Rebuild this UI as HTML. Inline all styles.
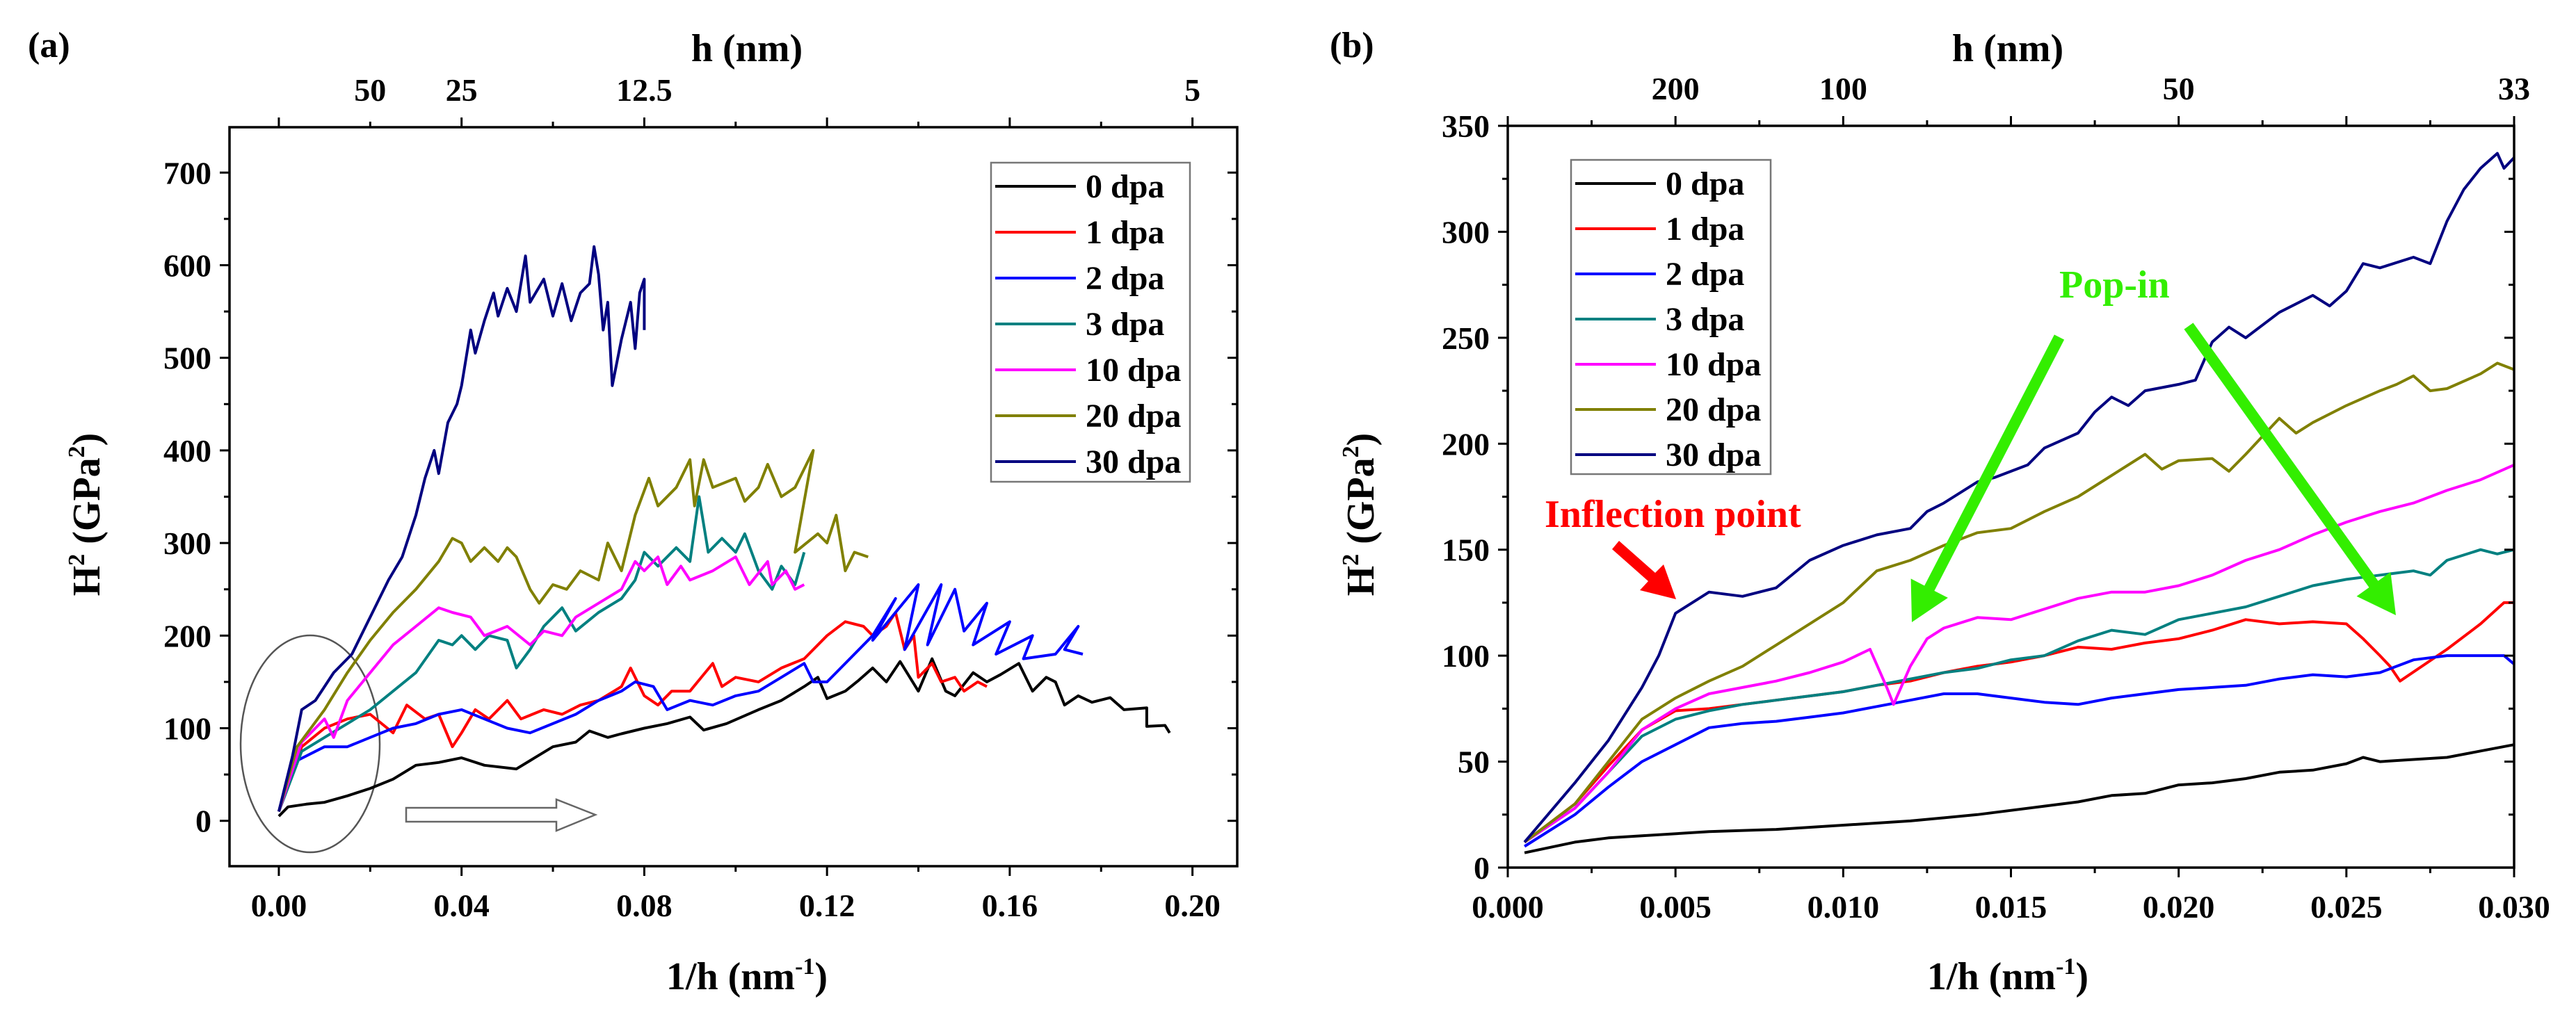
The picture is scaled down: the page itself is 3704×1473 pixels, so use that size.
<!DOCTYPE html>
<html><head><meta charset="utf-8"><style>
html,body{margin:0;padding:0;background:#fff}
svg{display:block}
text{font-family:"Liberation Serif",serif;font-weight:bold;fill:#000}
</style></head><body>
<svg id="fig" width="3704" height="1473" viewBox="0 0 3704 1473" xmlns="http://www.w3.org/2000/svg">
<g id="annA">
<text x="40" y="82" font-size="52">(a)</text>
<text x="1074" y="88" font-size="56" text-anchor="middle">h (nm)</text>
<text x="1074" y="1423" font-size="56" text-anchor="middle">1/h (nm<tspan font-size="34" dy="-22">-1</tspan><tspan dy="22">)</tspan></text>
<text transform="translate(143,740) rotate(-90)" font-size="56" text-anchor="middle">H<tspan font-size="34" dy="-22">2</tspan><tspan dy="22"> (GPa</tspan><tspan font-size="34" dy="-22">2</tspan><tspan dy="22">)</tspan></text>
<ellipse cx="446" cy="1070" rx="100" ry="156" fill="none" stroke="#555" stroke-width="2.5"/>
<path d="M584,1162 L800,1162 L800,1150 L856,1172 L800,1195 L800,1182 L584,1182 Z" fill="#fff" stroke="#666" stroke-width="2.5"/>
</g>
<g id="annB">
<text x="1912" y="82" font-size="52">(b)</text>
<text x="2887" y="88" font-size="56" text-anchor="middle">h (nm)</text>
<text x="2887" y="1423" font-size="56" text-anchor="middle">1/h (nm<tspan font-size="34" dy="-22">-1</tspan><tspan dy="22">)</tspan></text>
<text transform="translate(1975,740) rotate(-90)" font-size="56" text-anchor="middle">H<tspan font-size="34" dy="-22">2</tspan><tspan dy="22"> (GPa</tspan><tspan font-size="34" dy="-22">2</tspan><tspan dy="22">)</tspan></text>
</g>
</svg>
<script>
// ---------- Panel (a) data ----------
const aXTicks = [0, 0.04, 0.08, 0.12, 0.16, 0.20];
const aXTickLabels = ["0.00","0.04","0.08","0.12","0.16","0.20"];
const aYTicks = [0,100,200,300,400,500,600,700];
const aTopTicks = [0.02, 0.04, 0.08, 0.2];
const aTopLabels = ["50","25","12.5","5"];
const aLegend = ["0 dpa","1 dpa","2 dpa","3 dpa","10 dpa","20 dpa","30 dpa"];
const a0 = [[0,5],[0.002,15],[0.006,18],[0.01,20],[0.015,27],[0.02,35],[0.025,45],[0.03,60],[0.035,63],[0.04,68],[0.045,60],[0.052,56],[0.056,68],[0.06,80],[0.065,85],[0.068,97],[0.072,90],[0.075,94],[0.08,100],[0.085,105],[0.09,112],[0.093,98],[0.098,105],[0.105,120],[0.11,130],[0.115,145],[0.118,155],[0.12,132],[0.124,140],[0.127,152],[0.13,165],[0.133,150],[0.136,172],[0.14,140],[0.143,175],[0.146,140],[0.148,135],[0.152,160],[0.155,150],[0.158,158],[0.162,170],[0.165,140],[0.168,155],[0.17,150],[0.172,125],[0.175,135],[0.178,128],[0.182,133],[0.185,120],[0.19,122],[0.19,102],[0.194,103],[0.195,95]];
const a1 = [[0,10],[0.005,80],[0.01,100],[0.015,110],[0.02,115],[0.025,95],[0.028,125],[0.032,110],[0.035,115],[0.038,80],[0.04,95],[0.043,120],[0.046,110],[0.05,130],[0.053,110],[0.058,120],[0.062,115],[0.066,125],[0.07,130],[0.075,145],[0.077,165],[0.08,135],[0.083,125],[0.086,140],[0.09,140],[0.095,170],[0.097,145],[0.1,155],[0.105,150],[0.11,165],[0.115,175],[0.12,200],[0.124,215],[0.128,210],[0.13,200],[0.133,210],[0.135,225],[0.137,185],[0.139,200],[0.14,155],[0.143,170],[0.145,150],[0.148,155],[0.15,140],[0.153,150],[0.155,145]];
const a2 = [[0,10],[0.004,65],[0.01,80],[0.015,80],[0.02,90],[0.025,100],[0.03,105],[0.035,115],[0.04,120],[0.045,110],[0.05,100],[0.055,95],[0.06,105],[0.065,115],[0.07,130],[0.075,140],[0.078,150],[0.082,145],[0.085,120],[0.09,130],[0.095,125],[0.1,135],[0.105,140],[0.11,155],[0.115,170],[0.117,150],[0.12,150],[0.125,175],[0.13,200],[0.135,240],[0.13,195],[0.14,255],[0.137,185],[0.145,255],[0.142,190],[0.148,250],[0.15,205],[0.155,235],[0.152,190],[0.16,215],[0.157,180],[0.165,200],[0.163,175],[0.17,180],[0.175,210],[0.172,185],[0.176,180]];
const a3 = [[0,10],[0.005,75],[0.01,90],[0.015,105],[0.02,120],[0.025,140],[0.03,160],[0.035,195],[0.038,190],[0.04,200],[0.043,185],[0.046,200],[0.05,195],[0.052,165],[0.055,185],[0.058,210],[0.062,230],[0.065,205],[0.07,225],[0.075,240],[0.078,260],[0.08,290],[0.083,275],[0.087,295],[0.09,280],[0.092,350],[0.094,290],[0.097,305],[0.1,290],[0.102,310],[0.105,270],[0.108,250],[0.11,275],[0.113,255],[0.115,290]];
const a10 = [[0,10],[0.005,85],[0.01,110],[0.012,90],[0.015,130],[0.02,160],[0.025,190],[0.03,210],[0.035,230],[0.038,225],[0.042,220],[0.045,200],[0.05,210],[0.055,190],[0.058,205],[0.062,200],[0.065,220],[0.07,235],[0.075,250],[0.078,280],[0.08,270],[0.083,285],[0.085,255],[0.088,275],[0.09,260],[0.095,270],[0.1,285],[0.103,255],[0.107,280],[0.108,255],[0.111,270],[0.113,250],[0.115,255]];
const a20 = [[0,10],[0.004,80],[0.01,120],[0.015,160],[0.02,195],[0.025,225],[0.03,250],[0.035,280],[0.038,305],[0.04,300],[0.042,280],[0.045,295],[0.048,280],[0.05,295],[0.052,285],[0.055,250],[0.057,235],[0.06,255],[0.063,250],[0.066,270],[0.07,260],[0.072,300],[0.075,270],[0.078,330],[0.081,370],[0.083,340],[0.087,360],[0.09,390],[0.091,340],[0.093,390],[0.095,360],[0.1,370],[0.102,345],[0.105,360],[0.107,385],[0.11,350],[0.113,360],[0.117,400],[0.113,290],[0.118,310],[0.12,300],[0.122,330],[0.124,270],[0.126,290],[0.129,285]];
const a30 = [[0,10],[0.003,70],[0.005,120],[0.008,130],[0.012,160],[0.016,180],[0.02,220],[0.024,260],[0.027,285],[0.03,330],[0.032,370],[0.034,400],[0.035,375],[0.037,430],[0.039,450],[0.04,470],[0.042,530],[0.043,505],[0.045,540],[0.047,570],[0.048,545],[0.05,575],[0.052,550],[0.054,610],[0.055,560],[0.058,585],[0.06,545],[0.062,580],[0.064,540],[0.066,570],[0.068,580],[0.069,620],[0.07,590],[0.071,530],[0.072,560],[0.073,470],[0.075,520],[0.077,560],[0.078,510],[0.079,570],[0.08,585],[0.08,530]];

// ---------- Panel (b) data ----------
const bXTicks = [0, 0.005, 0.010, 0.015, 0.020, 0.025, 0.030];
const bXTickLabels = ["0.000","0.005","0.010","0.015","0.020","0.025","0.030"];
const bYTicks = [0,50,100,150,200,250,300,350];
const bTopTicks = [0.005, 0.010, 0.020, 0.030];
const bTopLabels = ["200","100","50","33"];
const bLegend = ["0 dpa","1 dpa","2 dpa","3 dpa","10 dpa","20 dpa","30 dpa"];
const b0 = [[0.0005,7],[0.002,12],[0.003,14],[0.004,15],[0.006,17],[0.008,18],[0.01,20],[0.012,22],[0.014,25],[0.016,29],[0.017,31],[0.018,34],[0.019,35],[0.02,39],[0.021,40],[0.022,42],[0.023,45],[0.024,46],[0.025,49],[0.0255,52],[0.026,50],[0.027,51],[0.028,52],[0.029,55],[0.03,58]];
const b1 = [[0.0005,12],[0.002,30],[0.003,48],[0.004,65],[0.005,74],[0.006,75],[0.007,77],[0.008,79],[0.009,81],[0.01,83],[0.011,86],[0.012,88],[0.013,92],[0.014,95],[0.015,97],[0.016,100],[0.017,104],[0.018,103],[0.019,106],[0.02,108],[0.021,112],[0.022,117],[0.023,115],[0.024,116],[0.025,115],[0.0255,108],[0.026,100],[0.0263,95],[0.0266,88],[0.028,103],[0.029,115],[0.0297,125],[0.03,125]];
const b2 = [[0.0005,10],[0.002,25],[0.003,38],[0.004,50],[0.005,58],[0.006,66],[0.007,68],[0.008,69],[0.009,71],[0.01,73],[0.011,76],[0.012,79],[0.013,82],[0.014,82],[0.015,80],[0.016,78],[0.017,77],[0.018,80],[0.019,82],[0.02,84],[0.021,85],[0.022,86],[0.023,89],[0.024,91],[0.025,90],[0.026,92],[0.027,98],[0.028,100],[0.029,100],[0.0297,100],[0.03,96]];
const b3 = [[0.0005,12],[0.002,28],[0.003,45],[0.004,62],[0.005,70],[0.006,74],[0.007,77],[0.008,79],[0.009,81],[0.01,83],[0.011,86],[0.012,89],[0.013,92],[0.014,94],[0.015,98],[0.016,100],[0.017,107],[0.018,112],[0.019,110],[0.02,117],[0.021,120],[0.022,123],[0.023,128],[0.024,133],[0.025,136],[0.026,138],[0.027,140],[0.0275,138],[0.028,145],[0.029,150],[0.0295,148],[0.03,150]];
const b10 = [[0.0005,12],[0.002,28],[0.003,45],[0.004,65],[0.005,75],[0.006,82],[0.007,85],[0.008,88],[0.009,92],[0.01,97],[0.0108,103],[0.0113,85],[0.0115,77],[0.012,95],[0.0125,108],[0.013,113],[0.014,118],[0.015,117],[0.016,122],[0.017,127],[0.018,130],[0.019,130],[0.02,133],[0.021,138],[0.022,145],[0.023,150],[0.024,157],[0.025,163],[0.026,168],[0.027,172],[0.028,178],[0.029,183],[0.03,190]];
const b20 = [[0.0005,12],[0.002,30],[0.003,50],[0.004,70],[0.005,80],[0.006,88],[0.007,95],[0.008,105],[0.009,115],[0.01,125],[0.011,140],[0.012,145],[0.013,152],[0.014,158],[0.015,160],[0.016,168],[0.017,175],[0.018,185],[0.019,195],[0.0195,188],[0.02,192],[0.021,193],[0.0215,187],[0.022,195],[0.023,212],[0.0235,205],[0.024,210],[0.025,218],[0.026,225],[0.0265,228],[0.027,232],[0.0275,225],[0.028,226],[0.029,233],[0.0295,238],[0.03,235]];
const b30 = [[0.0005,12],[0.002,40],[0.003,60],[0.004,85],[0.0045,100],[0.005,120],[0.0055,125],[0.006,130],[0.007,128],[0.008,132],[0.009,145],[0.01,152],[0.011,157],[0.012,160],[0.0125,168],[0.013,172],[0.014,182],[0.0145,184],[0.0155,190],[0.016,198],[0.017,205],[0.0175,215],[0.018,222],[0.0185,218],[0.019,225],[0.02,228],[0.0205,230],[0.021,248],[0.0215,255],[0.022,250],[0.023,262],[0.024,270],[0.0245,265],[0.025,272],[0.0255,285],[0.026,283],[0.027,288],[0.0275,285],[0.028,305],[0.0285,320],[0.029,330],[0.0295,337],[0.0297,330],[0.03,335]];

const colors = ["#000000","#ff0000","#0000ff","#008080","#ff00ff","#808000","#000080"];
const NS = "http://www.w3.org/2000/svg";
const svg = document.getElementById('fig');
function mk(tag, attrs, parent){ const e=document.createElementNS(NS,tag); for(const k in attrs) e.setAttribute(k,attrs[k]); (parent||svg).appendChild(e); return e; }

function panel(p){
  const g = mk('g',{});
  
  
  const sx = v => p.L + (v - p.x0)/(p.x1 - p.x0)*(p.R - p.L);
  const sy = v => p.B - (v - p.y0)/(p.y1 - p.y0)*(p.B - p.T);
  p.series.forEach((s,i)=>{
    const d = s.map((pt,j)=>(j?'L':'M')+sx(pt[0]).toFixed(1)+','+sy(pt[1]).toFixed(1)).join(' ');
    const path = mk('path',{d:d,fill:'none',stroke:colors[i],'stroke-width':4,'stroke-linejoin':'round'},g);
    
    
  });
  const fr = mk('rect',{x:p.L,y:p.T,width:p.R-p.L,height:p.B-p.T,fill:'none',stroke:'#000','stroke-width':3.5},g);
  
  
  p.xt.forEach((v,i)=>{
    const x=sx(v);
    mk('line',{x1:x,y1:p.B,x2:x,y2:p.B+14,stroke:'#000','stroke-width':3},g);
    const t=mk('text',{x:x,y:p.B+72,'font-size':46,'text-anchor':'middle'},g);
    t.textContent=p.xl[i];
    
    
    if(i<p.xt.length-1){ const m=sx((v+p.xt[i+1])/2); mk('line',{x1:m,y1:p.B,x2:m,y2:p.B+8,stroke:'#000','stroke-width':3},g); mk('line',{x1:m,y1:p.T,x2:m,y2:p.T-8,stroke:'#000','stroke-width':3},g);}
    mk('line',{x1:x,y1:p.T,x2:x,y2:p.T-14,stroke:'#000','stroke-width':3},g);
  });
  p.tt.forEach((v,i)=>{
    const t=mk('text',{x:sx(v),y:p.T-38,'font-size':46,'text-anchor':'middle'},g);
    t.textContent=p.tl[i];
    
    
  });
  p.yt.forEach((v,i)=>{
    const y=sy(v);
    mk('line',{x1:p.L,y1:y,x2:p.L-14,y2:y,stroke:'#000','stroke-width':3},g);
    mk('line',{x1:p.R,y1:y,x2:p.R-14,y2:y,stroke:'#000','stroke-width':3},g);
    if(i<p.yt.length-1){ const m=sy((v+p.yt[i+1])/2); mk('line',{x1:p.L,y1:m,x2:p.L-8,y2:m,stroke:'#000','stroke-width':3},g); mk('line',{x1:p.R,y1:m,x2:p.R-8,y2:m,stroke:'#000','stroke-width':3},g);}
    const t=mk('text',{x:p.L-26,y:y+16,'font-size':46,'text-anchor':'end'},g);
    t.textContent=String(v);
    
    
  });
  const lg = mk('g',{},g);
  
  
  mk('rect',{x:p.lx,y:p.ly,width:p.lw,height:p.lh,fill:'#fff',stroke:'#777','stroke-width':2.5},lg);
  p.legend.forEach((s,i)=>{
    const y=p.ly+34+i*p.ls;
    mk('line',{x1:p.lx+6,y1:y,x2:p.lx+122,y2:y,stroke:colors[i],'stroke-width':4},lg);
    const t=mk('text',{x:p.lx+136,y:y+16,'font-size':48},lg);
    t.textContent=s;
    
    
  });
}

panel({id:'panel-a',L:330,R:1779,T:183,B:1246,x0:-0.0108,x1:0.2098,y0:-49,y1:749,
  series:[a0,a1,a2,a3,a10,a20,a30],xt:aXTicks,xl:aXTickLabels,yt:aYTicks,tt:aTopTicks,tl:aTopLabels,
  legend:aLegend,lx:1425,ly:234,lw:286,lh:459,ls:66});
panel({id:'panel-b',L:2168,R:3615,T:181,B:1248,x0:0,x1:0.030,y0:0,y1:350,
  series:[b0,b1,b2,b3,b10,b20,b30],xt:bXTicks,xl:bXTickLabels,yt:bYTicks,tt:bTopTicks,tl:bTopLabels,
  legend:bLegend,lx:2259,ly:230,lw:287,lh:452,ls:65});

const ann = document.getElementById('annB');
svg.appendChild(ann);
const inf = mk('text',{x:2221,y:758,'font-size':56,style:'fill:#ff0000'});
inf.textContent='Inflection point';


const ra = mk('path',{d:'M2318,790 L2370,836 L2358,849 L2410,862 L2392,812 L2380,824 L2328,778 Z',fill:'#ff0000'});


const pop = mk('text',{x:2961,y:428,'font-size':56,style:'fill:#33ee00'});
pop.textContent='Pop-in';


function garrow(x1,y1,x2,y2,name){
  const dx=x2-x1, dy=y2-y1, L=Math.hypot(dx,dy), ux=dx/L, uy=dy/L, px=-uy, py=ux;
  const hl=55, hw=30, sw=8;
  const bx=x2-ux*hl, by=y2-uy*hl;
  const d=`M${x1+px*sw},${y1+py*sw} L${bx+px*sw},${by+py*sw} L${bx+px*hw},${by+py*hw} L${x2},${y2} L${bx-px*hw},${by-py*hw} L${bx-px*sw},${by-py*sw} L${x1-px*sw},${y1-py*sw} Z`;
  const p=mk('path',{d:d,fill:'#33ee00'});
  
  
}
garrow(2961,485,2749,895,'pop-in-arrow-left');
garrow(3147,469,3445,885,'pop-in-arrow-right');
</script>
</body></html>
